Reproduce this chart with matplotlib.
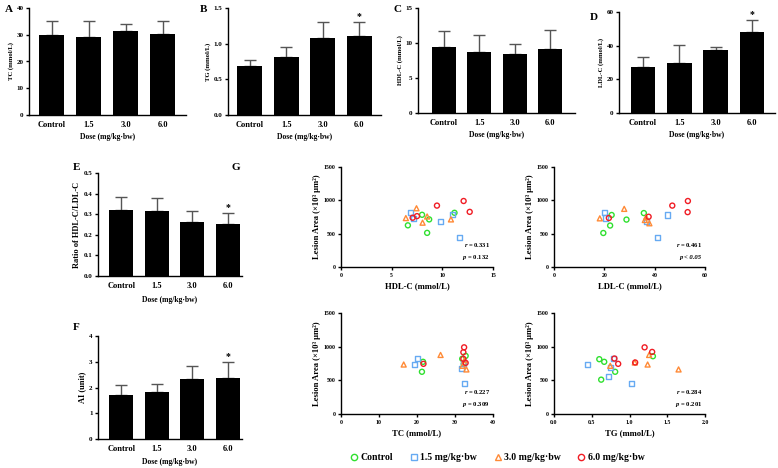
import numpy as np
import matplotlib
matplotlib.use('Agg')
import matplotlib.pyplot as plt
from matplotlib.lines import Line2D

plt.rcParams['font.family'] = ['Liberation Serif', 'DejaVu Serif']
plt.rcParams['font.weight'] = 'bold'
plt.rcParams['axes.labelweight'] = 'bold'
plt.rcParams['axes.linewidth'] = 1.0
plt.rcParams['mathtext.fontset'] = 'custom'
plt.rcParams['mathtext.it'] = 'Liberation Serif:italic:bold'
plt.rcParams['mathtext.rm'] = 'Liberation Serif:bold'

W, H = 778, 468

# bar chart data
doses = ['Control', '1.5', '3.0', '6.0']
tc_mean = [29.8, 29.3, 31.3, 30.3]
tc_sd = [5.5, 5.9, 2.8, 4.8]
tg_mean = [0.68, 0.82, 1.08, 1.11]
tg_sd = [0.09, 0.14, 0.23, 0.19]
hdl_mean = [9.4, 8.7, 8.4, 9.2]
hdl_sd = [2.3, 2.5, 1.4, 2.6]
ldl_mean = [27.5, 29.8, 37.5, 48.0]
ldl_sd = [6.0, 10.5, 2.0, 7.0]
ratio_mean = [0.322, 0.316, 0.262, 0.251]
ratio_sd = [0.062, 0.062, 0.055, 0.057]
ai_mean = [1.70, 1.84, 2.32, 2.35]
ai_sd = [0.38, 0.28, 0.50, 0.63]

# scatter data (Control, 1.5, 3.0, 6.0 groups)
groups = ['Control', '1.5 mg/kg·bw', '3.0 mg/kg·bw', '6.0 mg/kg·bw']
g_colors = ['#2fe02f', '#66aaf2', '#ff8a36', '#f01c24']
g_markers = ['o', 's', '^', 'o']

hdl_x = [[6.6, 8.0, 8.7, 8.5, 11.2], [6.85, 7.2, 9.8, 11.0, 11.7],
         [6.4, 7.45, 8.05, 8.5, 10.85], [7.07, 7.5, 9.47, 12.1, 12.7]]
hdl_y = [[625, 783, 714, 512, 813], [822, 724, 685, 783, 448],
         [734, 881, 665, 758, 714], [739, 763, 921, 990, 827]]

ldl_x = [[19.6, 22.3, 22.9, 28.8, 35.7], [20.0, 20.5, 36.7, 45.2, 41.1],
         [18.2, 27.9, 36.1, 36.6, 37.9], [21.8, 37.6, 47.0, 53.2, 53.1]]
ldl_y = [[510, 622, 780, 711, 809], [819, 735, 686, 780, 446],
         [730, 872, 705, 745, 656], [735, 754, 921, 990, 823]]

tc_x = [[21.6, 21.3, 32.8, 31.9, 32.3], [20.2, 19.3, 31.8, 32.4, 32.2],
        [16.5, 26.2, 33.0, 32.0, 32.5], [21.7, 32.4, 32.2, 32.2, 32.8]]
tc_y = [[775, 627, 863, 820, 745], [824, 735, 676, 451, 750],
        [735, 877, 662, 716, 800], [745, 990, 917, 819, 760]]

tg_x = [[0.60, 0.665, 0.625, 0.81, 1.31], [0.45, 0.72, 0.745, 1.03, 0.79],
        [0.745, 1.07, 1.24, 1.26, 1.65], [0.80, 0.85, 1.075, 1.20, 1.30]]
tg_y = [[814, 775, 510, 627, 858], [735, 559, 696, 456, 820],
        [716, 765, 735, 877, 662], [824, 745, 765, 990, 922]]

fig = plt.figure(figsize=(W / 100, H / 100), dpi=100)


def px_axes(left, top, right, bottom):
    return fig.add_axes([left / W, 1 - bottom / H, (right - left) / W, (bottom - top) / H])


def style(ax, tsize):
    ax.spines['top'].set_visible(False)
    ax.spines['right'].set_visible(False)
    ax.tick_params(axis='both', direction='out', length=2.5, width=1, labelsize=tsize, pad=1.5)


def bar_panel(box, means, sds, ylabel, ymax, yticks, fmt, star, xlim, ylsize=4.8, xlpad=3):
    ax = px_axes(*box)
    x = np.arange(len(doses))
    ax.bar(x, means, width=0.68, color='black', zorder=2)
    ax.errorbar(x, means, yerr=[np.zeros(len(sds)), sds], fmt='none', ecolor='#555555',
                elinewidth=1, capsize=4.5, capthick=1, zorder=1)
    if star:
        ax.text(3, means[3] + sds[3] + ymax * 0.01, '*', ha='center', va='bottom', fontsize=7)
    ax.set_xlim(*xlim)
    ax.set_ylim(0, ymax)
    ax.set_yticks(yticks)
    ax.set_yticklabels([fmt.format(v) for v in yticks])
    ax.set_xticks(x)
    ax.set_xticklabels(doses)
    style(ax, 5)
    ax.tick_params(axis='x', length=0, labelsize=6, pad=4)
    ax.set_ylabel(ylabel, fontsize=ylsize, labelpad=2)
    ax.set_xlabel('Dose (mg/kg·bw)', fontsize=5.5, labelpad=xlpad)
    return ax


bar_panel((29, 8, 186, 115), tc_mean, tc_sd, 'TC (mmol/L)', 40, [0, 10, 20, 30, 40], '{:g}', False, (-0.62, 3.63))
bar_panel((228, 8, 381, 115), tg_mean, tg_sd, 'TG (mmol/L)', 1.5, [0, 0.5, 1.0, 1.5], '{:.1f}', True, (-0.6, 3.6))
bar_panel((418, 8, 575, 113), hdl_mean, hdl_sd, 'HDL-C (mmol/L)', 15, [0, 5, 10, 15], '{:g}', False, (-0.73, 3.7))
bar_panel((619, 12, 775, 113), ldl_mean, ldl_sd, 'LDL-C (mmol/L)', 60, [0, 20, 40, 60], '{:g}', True, (-0.66, 3.63))
bar_panel((98, 173, 242, 276), ratio_mean, ratio_sd, 'Ratio of HDL-C/LDL-C', 0.5,
          [0, 0.1, 0.2, 0.3, 0.4, 0.5], '{:.1f}', True, (-0.66, 3.4), ylsize=6, xlpad=5)
bar_panel((98, 336, 242, 439), ai_mean, ai_sd, 'AI (unit)', 4, [0, 1, 2, 3, 4], '{:g}', True,
          (-0.66, 3.4), ylsize=6, xlpad=4)


def scatter_panel(box, xs, ys, xlabel, xmax, xticks, fmt, rtxt, ptxt, p_italic=False):
    ax = px_axes(*box)
    for i in range(4):
        ax.scatter(xs[i], ys[i], s=13, marker=g_markers[i], facecolors='none',
                   edgecolors=g_colors[i], linewidths=1.0, zorder=3, clip_on=False)
    ax.set_xlim(0, xmax)
    ax.set_ylim(0, 1500)
    ax.set_xticks(xticks)
    ax.set_xticklabels([fmt.format(v) for v in xticks])
    ax.set_yticks([0, 500, 1000, 1500])
    style(ax, 4.2)
    ax.set_xlabel(xlabel, fontsize=6.2, labelpad=3)
    ax.set_ylabel('Lesion Area (×10³ μm²)', fontsize=6.2, labelpad=2)
    ax.text(0.98, 0.22, rtxt, transform=ax.transAxes, ha='right', va='center', fontsize=4.8)
    ax.text(0.98, 0.09, ptxt, transform=ax.transAxes, ha='right', va='center', fontsize=4.8,
            fontstyle='italic' if p_italic else 'normal')
    return ax


scatter_panel((341, 167, 493, 267), hdl_x, hdl_y, 'HDL-C (mmol/L)', 15, [0, 5, 10, 15], '{:g}',
              r'$\it{r}$ = 0.331', r'$\it{p}$ = 0.132')
scatter_panel((554, 167, 705, 267), ldl_x, ldl_y, 'LDL-C (mmol/L)', 60, [0, 20, 40, 60], '{:g}',
              r'$\it{r}$ = 0.461', 'p < 0.05', p_italic=True)
scatter_panel((341, 313, 493, 414), tc_x, tc_y, 'TC (mmol/L)', 40, [0, 10, 20, 30, 40], '{:g}',
              r'$\it{r}$ = 0.227', r'$\it{p}$ = 0.309')
scatter_panel((554, 313, 705, 414), tg_x, tg_y, 'TG (mmol/L)', 2.0, [0, 0.5, 1.0, 1.5, 2.0], '{:.1f}',
              r'$\it{r}$ = 0.284', r'$\it{p}$ = 0.201')

handles = [Line2D([], [], linestyle='none', marker=g_markers[i], markersize=4.5,
                  markerfacecolor='none', markeredgecolor=g_colors[i], markeredgewidth=1.0)
           for i in range(4)]
fig.legend(handles, groups, loc='center', bbox_to_anchor=(497 / W, 1 - 458 / H), ncol=4,
           frameon=False, fontsize=7, handletextpad=0.2, columnspacing=1.6, handlelength=1.0)

for letter, x, y in [('A', 5, 10), ('B', 200, 10), ('C', 394, 10), ('D', 590, 17),
                     ('E', 73, 167), ('F', 73, 327), ('G', 232, 167)]:
    fig.text(x / W, 1 - y / H, letter, fontsize=8, fontweight='bold', ha='left', va='center')

fig.savefig('out.png', dpi=100)
